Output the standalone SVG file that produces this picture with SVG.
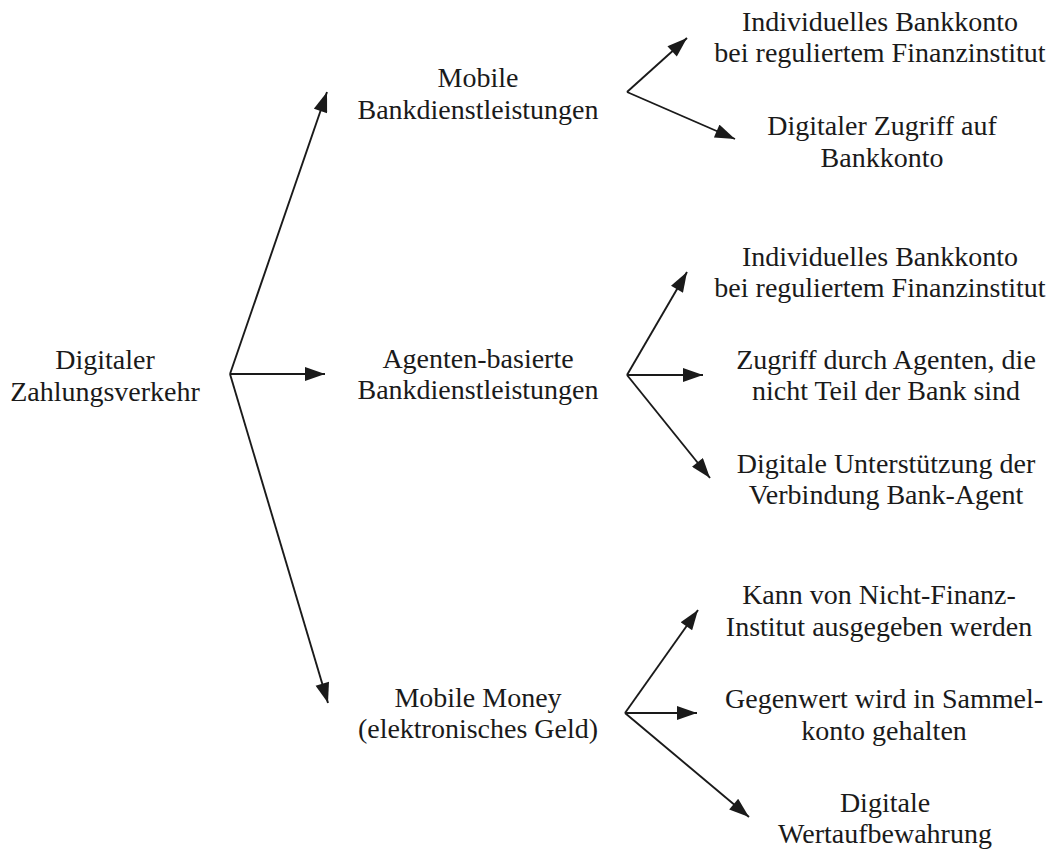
<svg xmlns="http://www.w3.org/2000/svg" width="1061" height="850" viewBox="0 0 1061 850">
<style>
text{font-family:"Liberation Serif",Tinos,"Noto Serif","DejaVu Serif",FreeSerif,Times,serif;font-size:28px;fill:#1a1a1a;text-anchor:middle}
.c{stroke:#1a1a1a;stroke-width:1.9;fill:none;marker-end:url(#ah)}
</style>
<defs>
<marker id="ah" viewBox="0 0 20 14" refX="20" refY="7" markerWidth="21" markerHeight="14" markerUnits="userSpaceOnUse" orient="auto">
<path d="M0,0 L20,7 L0,14 z" fill="#1a1a1a"/>
</marker>
</defs>
<rect width="1061" height="850" fill="#fff"/>
<g id="connectors">
<path class="c" d="M230,374 L327,92"/>
<path class="c" d="M230,374 L325,374"/>
<path class="c" d="M230,374 L328,703"/>
<path class="c" d="M627,92 L687,38"/>
<path class="c" d="M627,92 L735,139"/>
<path class="c" d="M627,375 L687,272"/>
<path class="c" d="M627,375 L703,375"/>
<path class="c" d="M627,375 L710,478"/>
<path class="c" d="M625,713 L698,610"/>
<path class="c" d="M625,713 L697,713"/>
<path class="c" d="M625,713 L749,817"/>
</g>
<g id="root"><text x="105" y="369">Digitaler</text><text x="105" y="401">Zahlungsverkehr</text></g>
<g id="mobile-banking"><text x="478" y="87">Mobile</text><text x="478" y="119">Bankdienstleistungen</text></g>
<g id="agent-banking"><text x="478" y="368">Agenten-basierte</text><text x="478" y="399">Bankdienstleistungen</text></g>
<g id="mobile-money"><text x="478" y="707">Mobile Money</text><text x="478" y="738">(elektronisches Geld)</text></g>
<g id="mb-1"><text x="880" y="31">Individuelles Bankkonto</text><text x="880" y="62">bei reguliertem Finanzinstitut</text></g>
<g id="mb-2"><text x="882" y="135">Digitaler Zugriff auf</text><text x="882" y="167">Bankkonto</text></g>
<g id="ab-1"><text x="880" y="266">Individuelles Bankkonto</text><text x="880" y="297">bei reguliertem Finanzinstitut</text></g>
<g id="ab-2"><text x="886" y="369">Zugriff durch Agenten, die</text><text x="886" y="400">nicht Teil der Bank sind</text></g>
<g id="ab-3"><text x="886" y="473">Digitale Unterstützung der</text><text x="886" y="504">Verbindung Bank-Agent</text></g>
<g id="mm-1"><text x="879" y="604">Kann von Nicht-Finanz-</text><text x="879" y="636">Institut ausgegeben werden</text></g>
<g id="mm-2"><text x="884" y="708">Gegenwert wird in Sammel-</text><text x="884" y="740">konto gehalten</text></g>
<g id="mm-3"><text x="885" y="812">Digitale</text><text x="885" y="843">Wertaufbewahrung</text></g>
</svg>
